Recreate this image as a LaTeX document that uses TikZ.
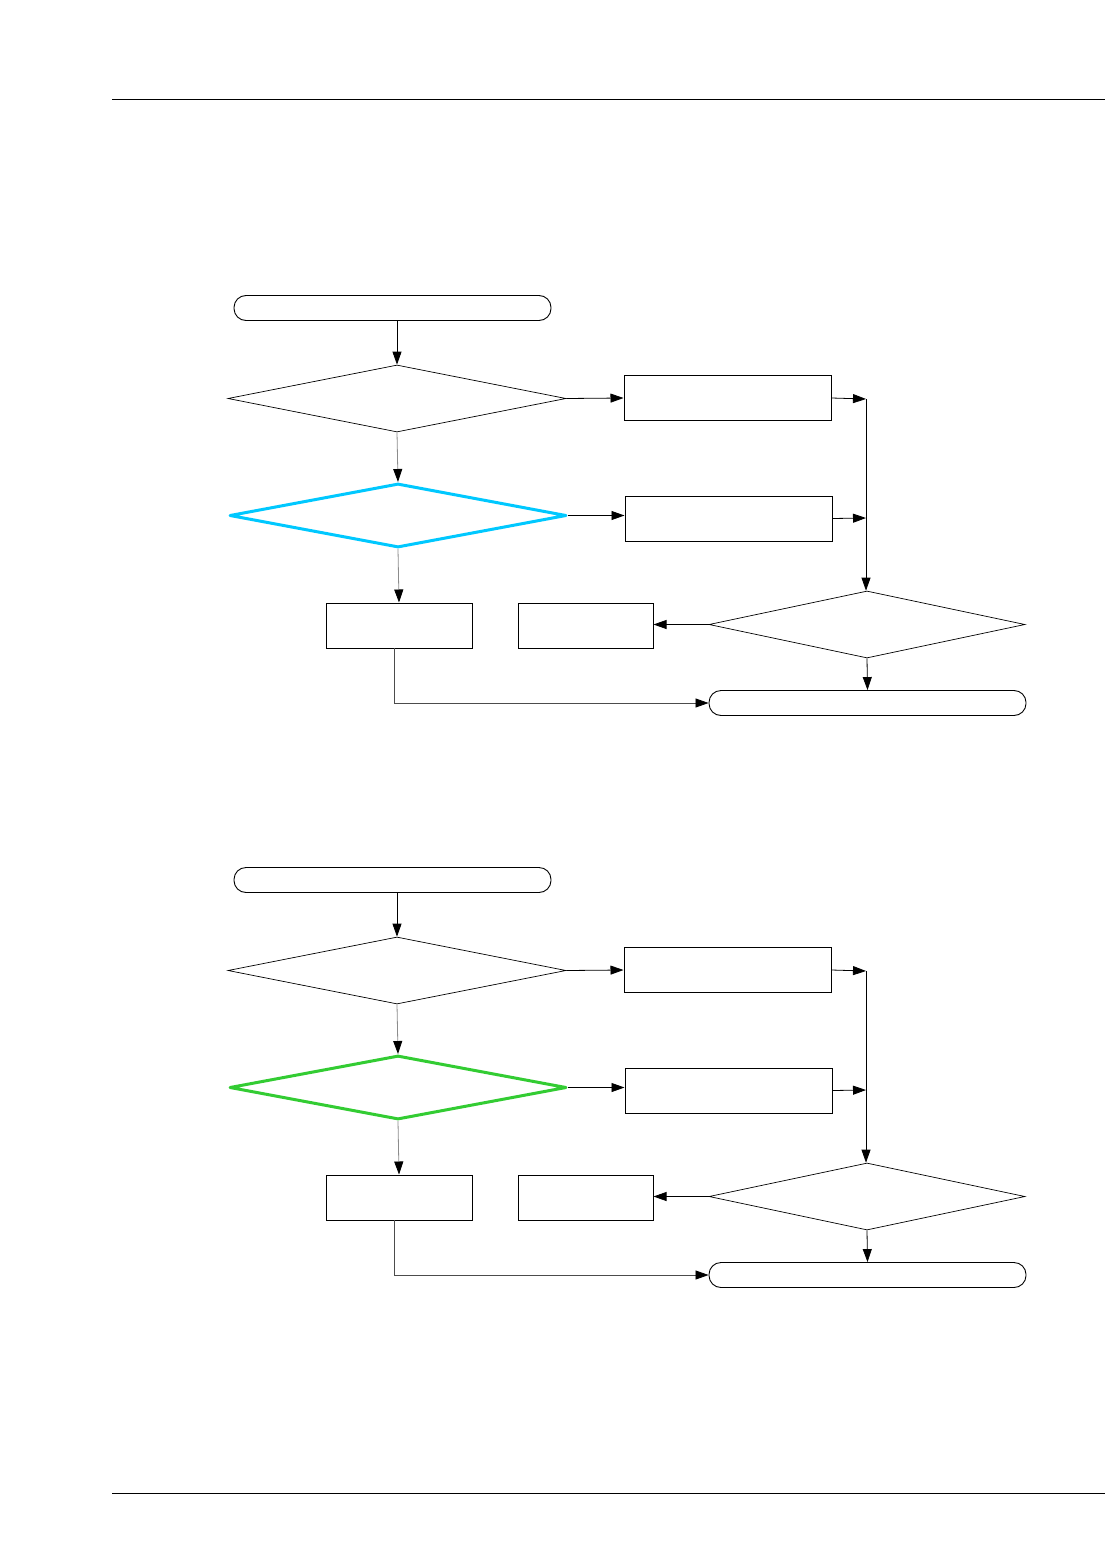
\documentclass[tikz,border=0pt]{standalone}
\usetikzlibrary{shapes.geometric,arrows.meta}

\tikzset{
  boite/.style={draw, line width=1pt, minimum width=#1, minimum height=45pt, inner sep=0pt},
  terminal/.style={draw, line width=0.9pt, rounded corners=12pt, minimum width=317pt, minimum height=25pt, inner sep=0pt},
  losange/.style={draw, diamond, line width=0.7pt, minimum width=#1, minimum height=67pt, inner sep=0pt, aspect=5},
  fleche/.style={line width=0.8pt, -{Triangle[length=13pt,width=9pt,black]}},
  gris/.style={draw=black!45}
}

\begin{document}
\begin{tikzpicture}[x=1pt, y=-1pt]

  \useasboundingbox (0,0) rectangle (1107,1554);

  % Lignes d'en-tete et de pied de page
  \draw[line width=0.9pt] (112,99) -- (1105,99);
  \draw[line width=0.9pt] (112,1493) -- (1105,1493);

  % Les deux organigrammes
  \foreach \n/\dy/\couleur in {1/0/{rgb,255:red,0;green,200;blue,255}, 2/572/{rgb,255:red,51;green,204;blue,51}} {
    \begin{scope}[yshift=-\dy pt]
      \node[terminal] (debut\n) at (392.5,308) {};
      \node[losange=338pt] (testA\n) at (397,398.5) {};
      \node[losange=337pt, minimum height=64pt, draw=\couleur, line width=3pt, line join=round] (testB\n) at (398,515.5) {};
      \node[boite=207pt] (actA\n) at (727.5,398) {};
      \node[boite=207pt] (actB\n) at (728.5,518.5) {};
      \node[boite=146pt] (actC\n) at (399,625.5) {};
      \node[boite=135pt] (actD\n) at (585.5,625.5) {};
      \node[losange=316pt] (testC\n) at (867,624.5) {};
      \node[terminal] (fin\n) at (867.5,703) {};

      \coordinate (jA\n) at (866,399);
      \coordinate (jB\n) at (866,518);
      \coordinate (sC\n) at (394,648);

      % Liaisons
      \draw[fleche] (testA\n.north |- debut\n.south) -- (testA\n.north);
      \draw[fleche] (testA\n.east) -- (actA\n.west);
      \draw[fleche] (testB\n.east) -- (testB\n.east -| actB\n.west);
      \draw[fleche, gris] (testA\n.south) -- (testB\n.north);
      \draw[fleche, gris] (testB\n.south) -- (actC\n.north);
      \draw[fleche] (actA\n.east) -- (jA\n);
      \draw[fleche] (actB\n.east) -- (jB\n);
      \draw[fleche] (jA\n) -- (jA\n |- testC\n.north);
      \draw[fleche] (testC\n.west) -- (testC\n.west -| actD\n.east);
      \draw[fleche] (testC\n.south) -- (fin\n.north);
      \draw[fleche, draw=black!70] (sC\n) |- (fin\n.west);
    \end{scope}
  }

\end{tikzpicture}
\end{document}
